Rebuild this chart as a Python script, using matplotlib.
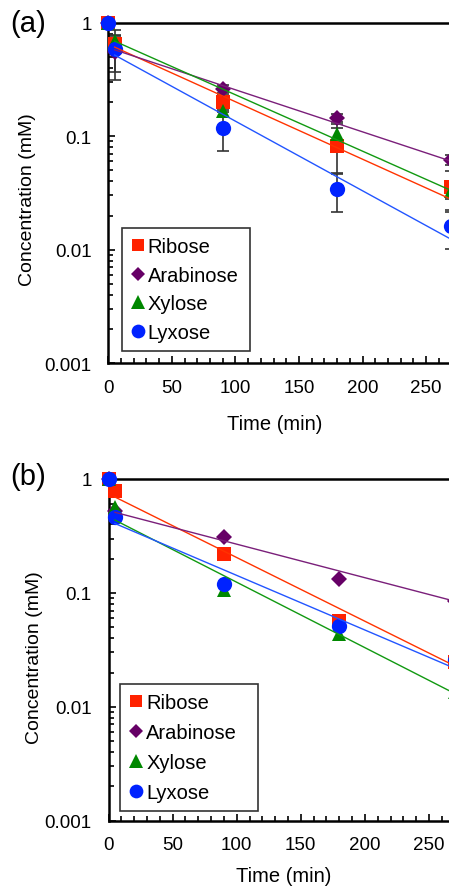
import numpy as np
import matplotlib
matplotlib.use('Agg')
import matplotlib.pyplot as plt
from matplotlib.ticker import FixedLocator, LogLocator, NullFormatter, MultipleLocator

plt.rcParams['font.family'] = ['Liberation Sans', 'DejaVu Sans']

# --- data ---
sugars = ['Ribose', 'Arabinose', 'Xylose', 'Lyxose']
time_min = [0, 5, 90, 180, 270]

conc_a = {
    'Ribose':    [1.0, 0.647, 0.199, 0.0826, 0.0355],
    'Arabinose': [1.0, 0.547, 0.26, 0.145, 0.062],
    'Xylose':    [1.0, 0.69, 0.168, 0.105, 0.033],
    'Lyxose':    [1.0, 0.585, 0.118, 0.034, 0.0162],
}
err_a = {
    'Ribose':    [0.32, 0.12, 0.03, 0.035, 0.014],
    'Arabinose': [0.0, 0.18, 0.02, 0.012, 0.006],
    'Xylose':    [0.415, 0.08, 0.02, 0.023, 0.005],
    'Lyxose':    [0.45, 0.275, 0.044, 0.0125, 0.006],
}
conc_b = {
    'Ribose':    [1.0, 0.79, 0.22, 0.057, 0.0248],
    'Arabinose': [1.0, 0.527, 0.308, 0.133, 0.0857],
    'Xylose':    [1.0, 0.565, 0.105, 0.0437, 0.0135],
    'Lyxose':    [1.0, 0.461, 0.12, 0.0516, 0.0255],
}

# trend line end points (t = 5 and t = 270)
fit_t = [5, 270]
fit_a = {
    'Ribose':    [0.607, 0.0277],
    'Arabinose': [0.575, 0.060],
    'Xylose':    [0.685, 0.0331],
    'Lyxose':    [0.517, 0.0123],
}
fit_b = {
    'Ribose':    [0.695, 0.0229],
    'Arabinose': [0.51, 0.0846],
    'Xylose':    [0.436, 0.0131],
    'Lyxose':    [0.407, 0.0218],
}

y_ticks = [0.001, 0.01, 0.1, 1]
y_ticklabels = ['0.001', '0.01', '0.1', '1']
x_ticks = [0, 50, 100, 150, 200, 250]

styles = {
    'Ribose':    dict(marker='s', ms=10, color='#FF2200'),
    'Arabinose': dict(marker='D', ms=8, color='#660066'),
    'Xylose':    dict(marker='^', ms=10.5, color='#008800'),
    'Lyxose':    dict(marker='o', ms=11, color='#0022FF'),
}
line_colors = {
    'Ribose': '#FF3300',
    'Arabinose': '#7A1F7A',
    'Xylose': '#119911',
    'Lyxose': '#2255FF',
}


def draw_panel(ax, conc, fits, errs, panel_label, leg_box, label_pos,
               xlab_pos, ylab_pos, labelspacing):
    if errs is not None:
        for s in sugars:
            ax.errorbar(time_min, conc[s], yerr=errs[s], fmt='none',
                        ecolor='#333333', elinewidth=1.2, capsize=4.5,
                        capthick=1.2, zorder=2)
    for s in sugars:
        st = styles[s]
        ax.plot(time_min, conc[s], linestyle='none', marker=st['marker'],
                ms=st['ms'], color=st['color'], mec=st['color'], mew=0,
                label=s, zorder=3, clip_on=False)
    for s in sugars:
        ax.plot(fit_t, fits[s], color=line_colors[s], lw=1.0, zorder=4)

    ax.set_yscale('log')
    ax.set_ylim(0.001, 1)
    ax.set_xlim(0, 270)
    ax.yaxis.set_major_locator(FixedLocator(y_ticks))
    ax.set_yticklabels(y_ticklabels)
    ax.yaxis.set_minor_locator(LogLocator(base=10, subs=np.arange(2, 10)))
    ax.yaxis.set_minor_formatter(NullFormatter())
    ax.set_xticks(x_ticks)
    ax.xaxis.set_minor_locator(MultipleLocator(10))

    ax.tick_params(which='both', direction='in', labelsize=13.5, width=1.2)
    ax.tick_params(axis='x', which='major', length=5, pad=11)
    ax.tick_params(axis='x', which='minor', length=3.5)
    ax.tick_params(axis='y', which='major', length=5, pad=12)
    ax.tick_params(axis='y', which='minor', length=3.5)
    for sp in ax.spines.values():
        sp.set_linewidth(1.8)

    ax.set_xlabel('Time (min)', fontsize=14.5)
    ax.xaxis.set_label_coords(*xlab_pos)
    ax.xaxis.label.set_va('center')
    ax.set_ylabel('Concentration (mM)', fontsize=14)
    ax.yaxis.set_label_coords(*ylab_pos)
    ax.yaxis.label.set_va('center')

    leg = ax.legend(loc='lower left', bbox_to_anchor=leg_box, mode='expand',
                    borderaxespad=0, fontsize=14.5, frameon=True,
                    fancybox=False, edgecolor='black', handlelength=0.7,
                    handletextpad=0.15, labelspacing=labelspacing,
                    borderpad=0.45, numpoints=1)
    leg.get_frame().set_linewidth(1.2)
    for h in leg.legend_handles:
        h.set_markersize(h.get_markersize() * 0.9)

    ax.text(label_pos[0], label_pos[1], panel_label, transform=ax.transAxes,
            fontsize=21, ha='left', va='center')


fig = plt.figure(figsize=(4.49, 8.87), dpi=100)
ax_a = fig.add_axes([108.3 / 449, 522.7 / 887, 343.2 / 449, 340.8 / 887])
ax_b = fig.add_axes([108.5 / 449, 65.3 / 887, 346.1 / 449, 341.7 / 887])

draw_panel(ax_a, conc_a, fit_a, err_a, '(a)', (0.039, 0.037, 0.374, 0.3),
           (-0.286, 1.0), (0.485, -0.178), (-0.234, 0.482), 0.47)
draw_panel(ax_b, conc_b, fit_b, None, '(b)', (0.033, 0.029, 0.40, 0.3),
           (-0.285, 1.01), (0.505, -0.160), (-0.215, 0.479), 0.54)

fig.savefig('out.png', dpi=100)
plt.close(fig)
